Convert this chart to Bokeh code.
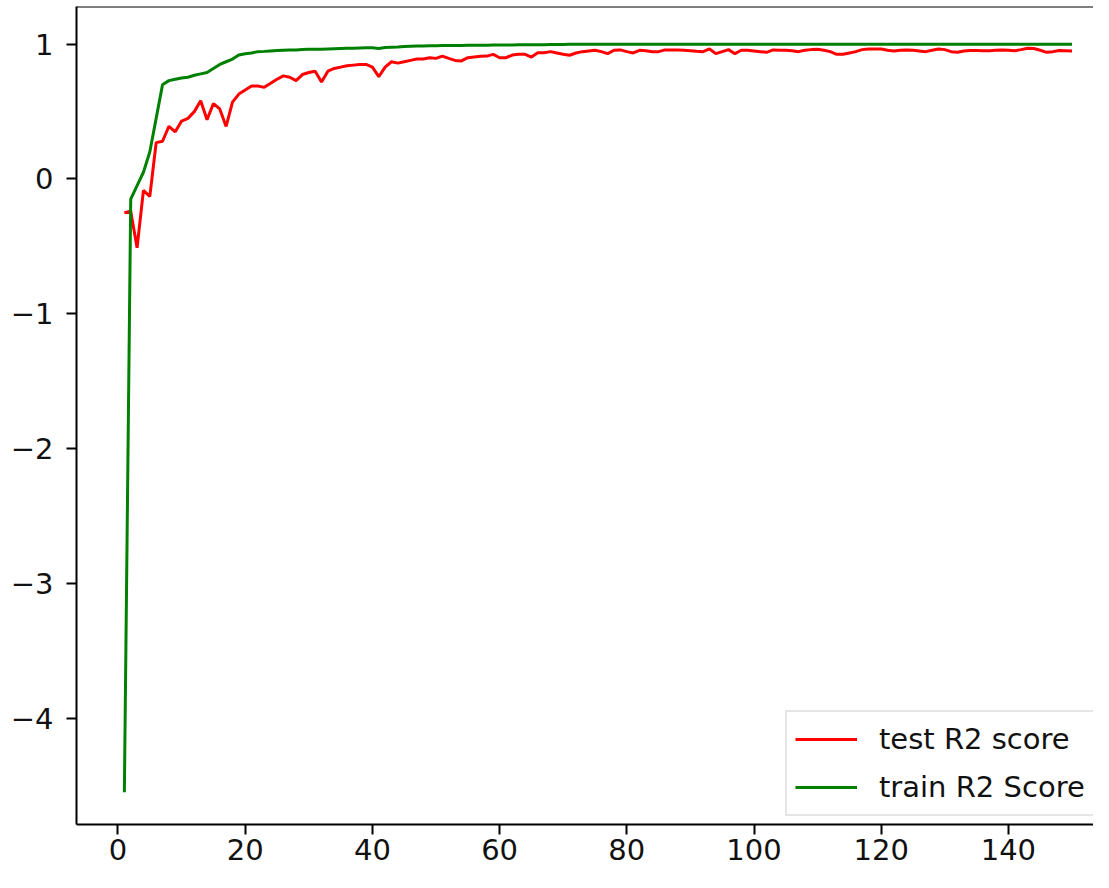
from bokeh.plotting import figure
from bokeh.models import Range1d, FixedTicker, CustomJSTickFormatter, Span, Legend, LegendItem
from bokeh.embed import file_html
from bokeh.resources import INLINE

# ---- data ----
epochs = list(range(1, 151))

test_r2 = [
    -0.25, -0.24, -0.51, -0.085, -0.13, 0.27, 0.28, 0.39, 0.35, 0.43,
    0.45, 0.50, 0.58, 0.44, 0.56, 0.52, 0.39, 0.57, 0.63, 0.66,
    0.69, 0.69, 0.68, 0.71, 0.74, 0.765, 0.755, 0.73, 0.775, 0.79,
    0.80, 0.72, 0.80, 0.82, 0.83, 0.84, 0.845, 0.85, 0.85, 0.83,
    0.76, 0.83, 0.87, 0.86, 0.87, 0.88, 0.89, 0.89, 0.90, 0.895,
    0.912, 0.895, 0.88, 0.876, 0.90, 0.905, 0.91, 0.912, 0.925, 0.90,
    0.90, 0.92, 0.925, 0.925, 0.905, 0.937, 0.937, 0.945, 0.935, 0.925,
    0.918, 0.935, 0.945, 0.95, 0.955, 0.945, 0.93, 0.955, 0.958, 0.945,
    0.935, 0.955, 0.952, 0.945, 0.945, 0.958, 0.958, 0.958, 0.955, 0.952,
    0.948, 0.945, 0.965, 0.93, 0.945, 0.96, 0.93, 0.955, 0.955, 0.95,
    0.945, 0.94, 0.958, 0.955, 0.955, 0.952, 0.945, 0.955, 0.96, 0.962,
    0.955, 0.945, 0.925, 0.925, 0.935, 0.945, 0.96, 0.965, 0.965, 0.965,
    0.955, 0.95, 0.955, 0.957, 0.955, 0.95, 0.945, 0.955, 0.965, 0.96,
    0.945, 0.94, 0.95, 0.953, 0.953, 0.952, 0.952, 0.955, 0.957, 0.955,
    0.952, 0.96, 0.97, 0.968, 0.955, 0.94, 0.945, 0.953, 0.952, 0.949,
]

train_r2 = [
    -4.55, -0.15, -0.05, 0.05, 0.20, 0.45, 0.70, 0.73, 0.74, 0.75,
    0.755, 0.77, 0.78, 0.79, 0.82, 0.85, 0.87, 0.89, 0.92, 0.93,
    0.935, 0.945, 0.947, 0.95, 0.953, 0.955, 0.957, 0.958, 0.96, 0.962,
    0.963, 0.962, 0.964, 0.966, 0.968, 0.97, 0.971, 0.972, 0.973, 0.974,
    0.968, 0.976, 0.978, 0.98, 0.983, 0.985, 0.986, 0.987, 0.988, 0.989,
    0.990, 0.990, 0.991, 0.991, 0.992, 0.992, 0.993, 0.993, 0.994, 0.994,
    0.995, 0.995, 0.996, 0.996, 0.997, 0.997, 0.997, 0.998, 0.998, 0.998,
    0.999, 0.999, 0.999, 0.999, 0.999, 1.0, 1.0, 1.0, 1.0, 1.0,
    1.0, 1.0, 1.0, 1.0, 1.0, 1.0, 1.0, 1.0, 1.0, 1.0,
    1.0, 1.0, 1.0, 1.0, 1.0, 1.0, 1.0, 1.0, 1.0, 1.0,
    1.0, 1.0, 1.0, 1.0, 1.0, 1.0, 1.0, 1.0, 1.0, 1.0,
    1.0, 1.0, 1.0, 1.0, 1.0, 1.0, 1.0, 1.0, 1.0, 1.0,
    1.0, 1.0, 1.0, 1.0, 1.0, 1.0, 1.0, 1.0, 1.0, 1.0,
    1.0, 1.0, 1.0, 1.0, 1.0, 1.0, 1.0, 1.0, 1.0, 1.0,
    1.0, 1.0, 1.0, 1.0, 1.0, 1.0, 1.0, 1.0, 1.0, 1.0,
]

x_ticks = [0, 20, 40, 60, 80, 100, 120, 140]
y_ticks = [-4, -3, -2, -1, 0, 1]
series_labels = ["test R2 score", "train R2 Score"]
series_colors = ["#ff0000", "#008000"]

FONT = "DejaVu Sans"
FS = "29px"

p = figure(width=1093, height=872, output_backend="svg", toolbar_location=None,
           x_range=Range1d(-6.525, 153.38), y_range=Range1d(-4.79, 1.28),
           min_border_left=76, min_border_right=0, min_border_top=6, min_border_bottom=48)
p.outline_line_color = None
p.xgrid.visible = False
p.ygrid.visible = False
p.background_fill_color = "white"
p.border_fill_color = "white"

for ax in (p.xaxis[0], p.yaxis[0]):
    ax.axis_line_width = 2
    ax.axis_line_color = "black"
    ax.major_tick_line_width = 2
    ax.major_tick_line_color = "black"
    ax.major_tick_out = 10
    ax.major_tick_in = 0
    ax.minor_tick_line_color = None
    ax.major_label_text_font = FONT
    ax.major_label_text_font_size = FS
    ax.major_label_text_color = "#111111"

p.xaxis[0].ticker = FixedTicker(ticks=x_ticks)
p.yaxis[0].ticker = FixedTicker(ticks=y_ticks)
p.xaxis[0].major_label_standoff = 4
p.yaxis[0].major_label_standoff = 13
p.yaxis[0].formatter = CustomJSTickFormatter(
    code="return tick < 0 ? '\\u2212' + String(-tick) : String(tick);")

top_border = Span(location=p.y_range.end, dimension="width", line_color="black", line_width=2)
p.add_layout(top_border)

r_test = p.line(epochs, test_r2, line_color=series_colors[0], line_width=3)
r_train = p.line(epochs, train_r2, line_color=series_colors[1], line_width=3)

legend = Legend(items=[LegendItem(label=series_labels[0], renderers=[r_test]),
                       LegendItem(label=series_labels[1], renderers=[r_train])],
                location=(709, 8))
legend.label_text_font = FONT
legend.label_text_font_size = FS
legend.label_text_color = "#111111"
legend.glyph_width = 62
legend.glyph_height = 38
legend.label_standoff = 22
legend.spacing = 10
legend.padding = 8
legend.margin = 0
legend.border_line_color = "#cccccc"
legend.border_line_width = 2
legend.background_fill_color = "white"
legend.background_fill_alpha = 0.8
p.add_layout(legend, "center")

open("out.html", "w").write(file_html(p, INLINE))
